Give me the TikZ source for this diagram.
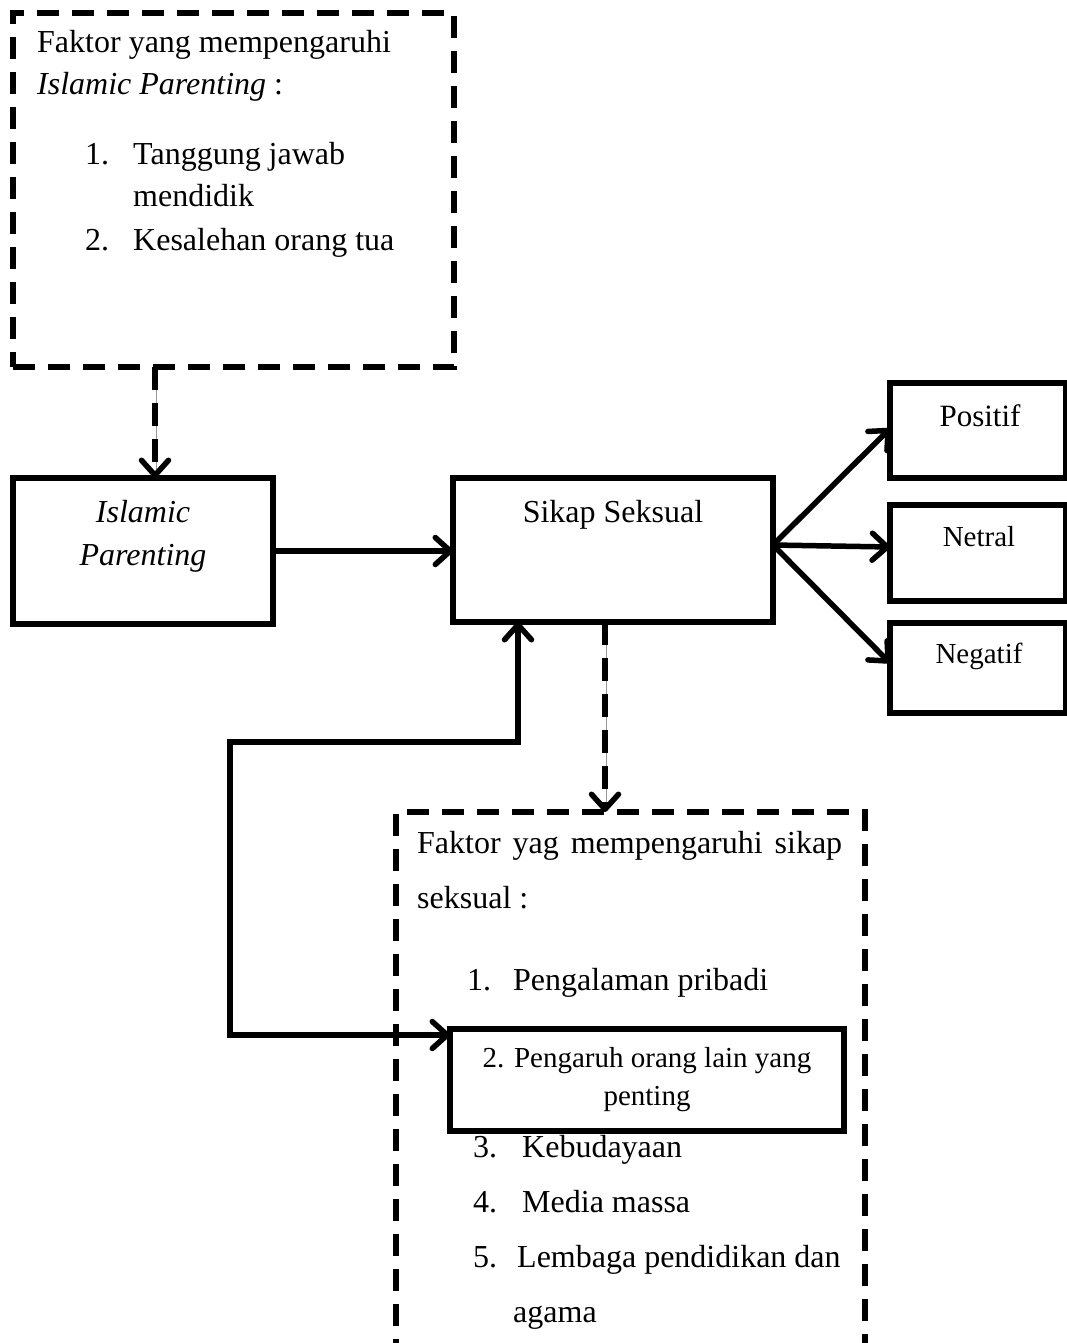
\documentclass[tikz,border=0pt]{standalone}
\usepackage{fontspec}
\setmainfont{Liberation Serif}
\usetikzlibrary{arrows.meta,calc}
\tikzset{
  box/.style={draw, rectangle, line width=5.5pt, inner sep=0pt, outer sep=0pt, anchor=north west},
  dbox/.style={box, line width=6pt, dash pattern=on 22pt off 13pt},
  txt/.style={anchor=base west, inner sep=0pt, font=\fontsize{32}{40}\selectfont},
  ctxt/.style={anchor=base, inner sep=0pt, font=\fontsize{32}{40}\selectfont},
  stxt/.style={anchor=base, inner sep=0pt, font=\fontsize{29}{36}\selectfont},
  tipV/.tip={Straight Barb[length=15pt,width=27pt,line cap=round,line join=round]},
  shadowed/.style={preaction={draw=black!40, transform canvas={xshift=1pt, yshift=-2pt}}},
  conn/.style={line width=5.5pt, shadowed, -tipV},
  dconn/.style={conn, dash pattern=on 23pt off 13pt}
}
\begin{document}
\begin{tikzpicture}[x=1pt,y=-1pt]
\clip (0,0) rectangle (1067,1343);
\fill[white] (0,0) rectangle (1067,1343);

% boxes
\node[dbox, minimum width=441pt, minimum height=354pt] (top) at (13,13) {};
\node[box, minimum width=260pt, minimum height=146pt] (ip) at (13,478) {};
\node[box, minimum width=320pt, minimum height=144pt] (ss) at (453,478) {};
\node[box, minimum width=176pt, minimum height=95pt] (pos) at (890,383) {};
\node[box, minimum width=176pt, minimum height=96pt] (net) at (890,505) {};
\node[box, minimum width=176pt, minimum height=90pt] (neg) at (890,623) {};
\node[dbox, minimum width=469pt, minimum height=600pt] (low) at (396,812) {};
\node[box, minimum width=394pt, minimum height=102pt, fill=white] (peng) at (450,1029) {};

% top box text
\node[txt] (t1) at (37,53) {Faktor yang mempengaruhi};
\node[txt] (t2) at (37,95) {\textit{Islamic Parenting} :};
\node[txt] (t3n) at (85,165) {1.};
\node[txt] (t3) at (133,165) {Tanggung jawab};
\node[txt] (t4) at (133,207) {mendidik};
\node[txt] (t5n) at (85,250) {2.};
\node[txt] (t5) at (133,250) {Kesalehan orang tua};

% main boxes text
\node[ctxt] (ip1) at (143,522) {\textit{Islamic}};
\node[ctxt] (ip2) at (143,565) {\textit{Parenting}};
\node[ctxt] (ss1) at (613,522) {Sikap Seksual};
\node[ctxt, font=\fontsize{31}{38}\selectfont] (pos1) at (980,426) {Positif};
\node[stxt] (net1) at (979,546) {Netral};
\node[stxt] (neg1) at (979,663) {Negatif};

% lower box text
\node[txt] (l1) at (417,853) {\hbox to 425pt{Faktor\hfill yag\hfill mempengaruhi\hfill sikap}};
\node[txt] (l2) at (417,908) {seksual :};
\node[txt] (l3n) at (467,990) {1.};
\node[txt] (l3) at (513,990) {Pengalaman pribadi};
\node[stxt] (p1) at (647,1067) {2. Pengaruh orang lain yang};
\node[stxt] (p2) at (647,1105) {penting};
\node[txt] (l5n) at (473,1157) {3.};
\node[txt] (l5) at (522,1157) {Kebudayaan};
\node[txt] (l6n) at (473,1212) {4.};
\node[txt] (l6) at (522,1212) {Media massa};
\node[txt] (l7n) at (473,1267) {5.};
\node[txt] (l7) at (517,1267) {Lembaga pendidikan dan};
\node[txt] (l8) at (513,1322) {agama};

% connectors
\coordinate (d1) at ([xshift=142pt]top.south west);
\draw[dconn] (d1) -- (d1 |- ip.north);
\draw[conn] (ip.east) -- (ip.east -| ss.west);
\coordinate (fan) at ([yshift=5pt]ss.east);
\draw[conn] (fan) -- ([yshift=2pt]pos.west);
\draw[conn] (fan) -- ([yshift=6pt]net.west);
\draw[conn] (fan) -- ([yshift=5pt]neg.west);
\coordinate (d2) at ([xshift=152pt]ss.south west);
\draw[dconn] (d2) -- (d2 |- low.north);
\coordinate (fb) at ([xshift=65pt]ss.south west);
\coordinate (pe) at ([yshift=-6pt]peng.north west);
\coordinate (bend) at (230,742);
\draw[conn, tipV-tipV] (fb) |- (bend) |- (pe);
\end{tikzpicture}
\end{document}
